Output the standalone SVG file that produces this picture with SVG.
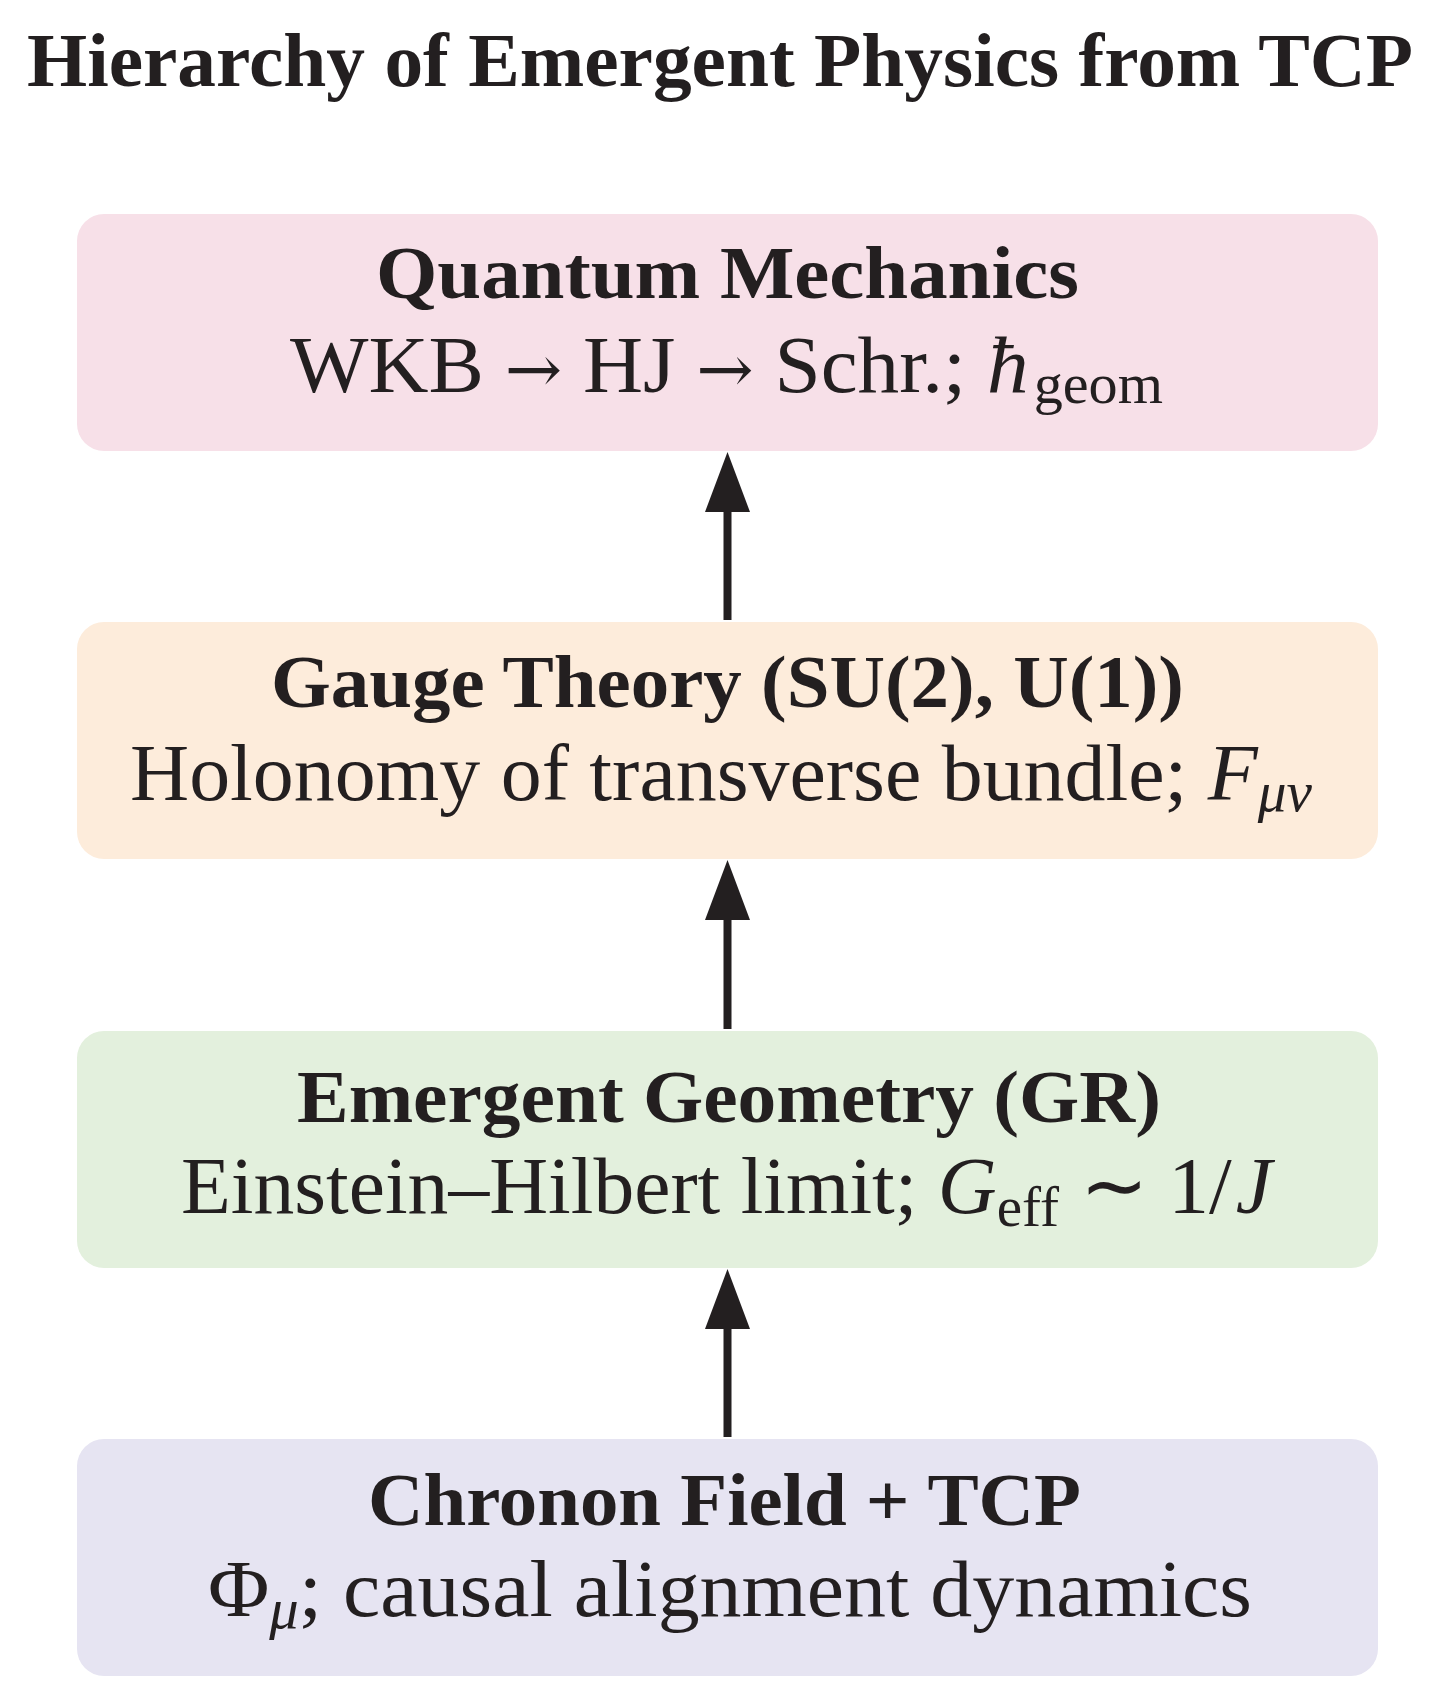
<svg xmlns="http://www.w3.org/2000/svg" width="1444" height="1699" viewBox="0 0 1444 1699">
  <style>
    text { font-family: "Liberation Serif", "Times New Roman", serif; fill: #231F20; }
    .title { font-size: 77px; font-weight: bold; }
    .head { font-size: 74px; font-weight: bold; }
    .body { font-size: 80px; }
    .it { font-style: italic; }
    .sub { font-size: 56px; }
    .sym { font-family: "DejaVu Serif", "Liberation Serif", serif; font-size: 66px; }
    .box { stroke: none; }
    .conn { stroke: #231F20; stroke-width: 8; fill: none; }
  </style>
  <defs>
    <marker id="arrowhead" markerUnits="userSpaceOnUse" viewBox="0 0 60 45" markerWidth="60" markerHeight="45" refX="0" refY="22.5" orient="auto">
      <path d="M0,0 L60,22.5 L0,45 Z" fill="#231F20"/>
    </marker>
  </defs>
  <rect width="1444" height="1699" fill="#FFFFFF"/>

  <text id="title" class="title" x="720" y="86" text-anchor="middle" textLength="1386" lengthAdjust="spacingAndGlyphs">Hierarchy of Emergent Physics from TCP</text>

  <g id="node-qm">
    <rect class="box" x="77" y="214" width="1301" height="237" rx="27" fill="#F7E0E8"/>
    <text class="head" x="727.5" y="298" text-anchor="middle" textLength="703" lengthAdjust="spacingAndGlyphs">Quantum Mechanics</text>
    <text class="body" x="290" y="392" textLength="873" lengthAdjust="spacingAndGlyphs">WKB <tspan class="sym">→</tspan> HJ <tspan class="sym">→</tspan> Schr.; <tspan class="it">ħ</tspan><tspan class="sub" dx="5" dy="11">geom</tspan></text>
  </g>

  <g id="node-gauge">
    <rect class="box" x="77" y="622" width="1301" height="237" rx="27" fill="#FDECDB"/>
    <text class="head" x="727.5" y="707" text-anchor="middle" textLength="913" lengthAdjust="spacingAndGlyphs">Gauge Theory (SU(2), U(1))</text>
    <text class="body" x="130" y="800" textLength="1182" lengthAdjust="spacingAndGlyphs">Holonomy of transverse bundle; <tspan class="it">F</tspan><tspan class="it sub" dy="11">μν</tspan></text>
  </g>

  <g id="node-gr">
    <rect class="box" x="77" y="1031" width="1301" height="237" rx="27" fill="#E3F0DD"/>
    <text class="head" x="729" y="1122" text-anchor="middle" textLength="864" lengthAdjust="spacingAndGlyphs">Emergent Geometry (GR)</text>
    <text class="body" x="181" y="1213" textLength="1091" lengthAdjust="spacingAndGlyphs">Einstein–Hilbert limit; <tspan class="it">G</tspan><tspan class="sub" dy="13">eff</tspan><tspan dy="-13"> ∼ 1/</tspan><tspan class="it" dx="4">J</tspan></text>
  </g>

  <g id="node-chronon">
    <rect class="box" x="77" y="1439" width="1301" height="237" rx="27" fill="#E6E4F2"/>
    <text class="head" x="724.5" y="1525" text-anchor="middle" textLength="713" lengthAdjust="spacingAndGlyphs">Chronon Field + TCP</text>
    <text class="body" x="208" y="1616" textLength="1044" lengthAdjust="spacingAndGlyphs">Φ<tspan class="it sub" dy="12">μ</tspan><tspan dy="-12">; causal alignment dynamics</tspan></text>
  </g>

  <g id="connectors">
    <line class="conn" x1="727.5" y1="620" x2="727.5" y2="512" marker-end="url(#arrowhead)"/>
    <line class="conn" x1="727.5" y1="1029" x2="727.5" y2="920" marker-end="url(#arrowhead)"/>
    <line class="conn" x1="727.5" y1="1437" x2="727.5" y2="1329" marker-end="url(#arrowhead)"/>
  </g>
</svg>
